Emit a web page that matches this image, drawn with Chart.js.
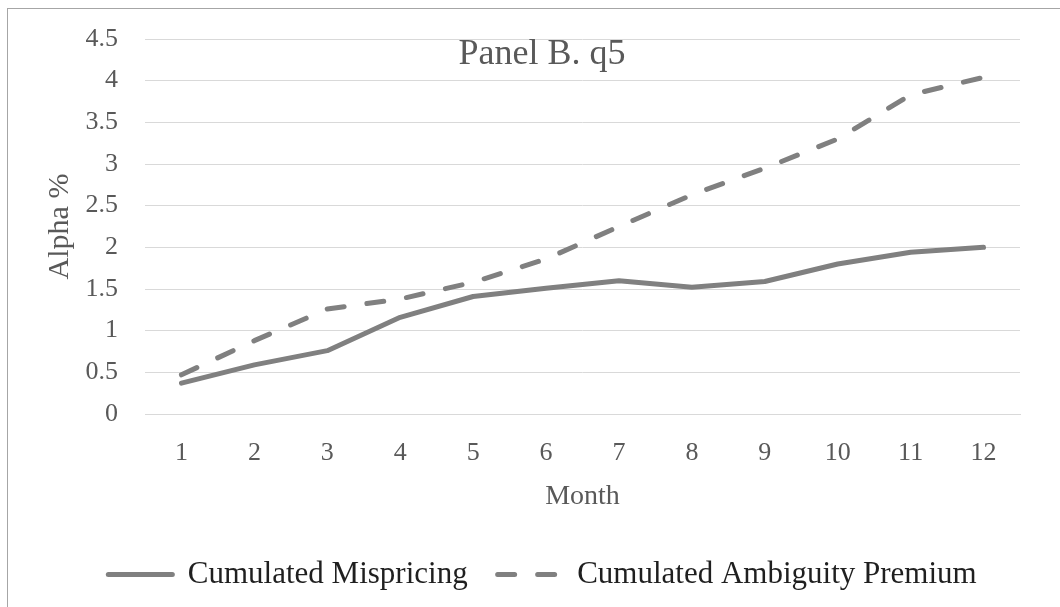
<!DOCTYPE html>
<html>
<head>
<meta charset="utf-8">
<script src="https://cdn.jsdelivr.net/npm/chart.js@4.4.1/dist/chart.umd.min.js"></script>
<style>
  html, body { margin: 0; padding: 0; background: #fff; overflow: hidden; }
  #frame { position: absolute; left: 7px; top: 8px; width: 1100px; height: 650px;
           border-left: 1px solid #a6a6a6; border-top: 1px solid #a6a6a6; }
  #box { position: absolute; left: 8px; top: 9px; width: 1052px; height: 598px; }
</style>
</head>
<body>
<div id="frame"></div>
<div id="box"><canvas id="myChart"></canvas></div>
<script>
"use strict";

// data
const months = ["1", "2", "3", "4", "5", "6", "7", "8", "9", "10", "11", "12"];
const mispricing = [0.37, 0.59, 0.76, 1.16, 1.41, 1.51, 1.60, 1.52, 1.59, 1.80, 1.94, 2.00];
const ambiguity = [0.47, 0.88, 1.26, 1.38, 1.58, 1.86, 2.25, 2.63, 2.95, 3.30, 3.83, 4.04];
const chartTitle = "Panel B. q5";

const fontName = "'Liberation Serif', 'DejaVu Serif', serif";
const lineColor = "#808080";
const textColor = "#595959";

// title sits inside the plot area, so draw it by hand
const innerTitle = {
	id: "innerTitle",
	afterDraw(chart) {
		let ctx = chart.ctx;
		ctx.save();
		ctx.font = "36px " + fontName;
		ctx.fillStyle = textColor;
		ctx.textAlign = "center";
		ctx.textBaseline = "middle";
		ctx.fillText(chartTitle, chart.width / 2 + 8, chart.chartArea.top + 16);
		ctx.restore();
	}
};

// legend keeps the dash of each line (point style alone drops it)
function legendLabels(chart) {
	let items = Chart.defaults.plugins.legend.labels.generateLabels(chart);
	items.forEach(function (item) {
		let ds = chart.data.datasets[item.datasetIndex];
		item.lineDash = ds.borderDash || [];
		item.lineCap = "round";
		item.lineWidth = 5;
		item.strokeStyle = lineColor;
		item.fontColor = "#1f1f1f";
	});
	return items;
}

let myChart = new Chart(document.getElementById("myChart"), {
	type: "line",
	data: {
		labels: months,
		datasets: [
			{
				label: "Cumulated Mispricing",
				data: mispricing,
				borderColor: lineColor,
				backgroundColor: lineColor,
				borderWidth: 5,
				borderCapStyle: "round",
				borderJoinStyle: "round",
				pointRadius: 0,
				pointStyle: "line",
				tension: 0
			},
			{
				label: "Cumulated Ambiguity Premium",
				data: ambiguity,
				borderColor: lineColor,
				backgroundColor: lineColor,
				borderWidth: 5,
				borderDash: [17, 23],
				borderCapStyle: "round",
				borderJoinStyle: "round",
				pointRadius: 0,
				pointStyle: "line",
				tension: 0
			}
		]
	},
	options: {
		responsive: true,
		maintainAspectRatio: false,
		animation: false,
		// left padding only nudges the legend to the right
		layout: { padding: { top: 30, right: 40, bottom: 7, left: 57 } },
		plugins: {
			title: { display: false },
			tooltip: { enabled: false },
			legend: {
				position: "bottom",
				labels: {
					usePointStyle: true,
					boxWidth: 64,
					pointStyleWidth: 64,
					padding: 30,
					color: "#1f1f1f",
					font: { family: fontName, size: 31 },
					generateLabels: legendLabels
				}
			}
		},
		scales: {
			x: {
				offset: true,
				grid: { display: false, drawTicks: false },
				border: { display: true, color: "#d9d9d9", width: 1 },
				ticks: { color: textColor, padding: 24, font: { family: fontName, size: 26 } },
				title: {
					display: true, text: "Month", color: textColor,
					font: { family: fontName, size: 28 }, padding: { top: 4, bottom: 16 }
				},
				afterFit: function (scale) { scale.height = 115; }
			},
			y: {
				min: 0,
				max: 4.5,
				grid: { color: "#d9d9d9", lineWidth: 1, drawTicks: true, tickLength: 27, tickColor: "rgba(0,0,0,0)" },
				border: { display: false },
				ticks: {
					stepSize: 0.5, color: textColor, padding: 0,
					font: { family: fontName, size: 26 },
					callback: function (v) { return String(Math.round(v * 10) / 10); }
				},
				title: {
					display: true, text: "Alpha %", color: textColor,
					font: { family: fontName, size: 30 }, padding: { top: -23, bottom: 0 }
				},
				afterFit: function (scale) { scale.width = 80; }
			}
		}
	},
	plugins: [innerTitle]
});
</script>
</body>
</html>
